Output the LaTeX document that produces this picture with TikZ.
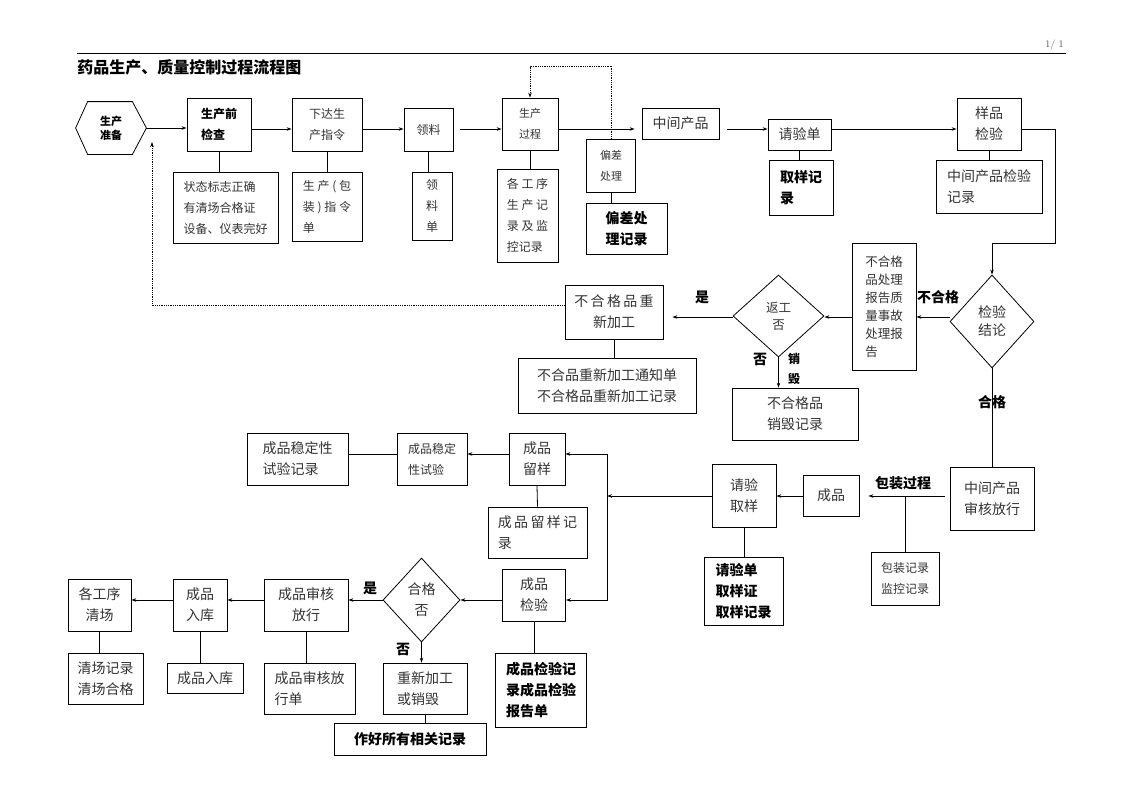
\documentclass[tikz,border=0pt]{standalone}
\usepackage{fontspec}
\newfontfamily\cjk{Noto Sans CJK SC}
\usetikzlibrary{arrows.meta,shapes.geometric,positioning}

\newcommand\fa{\cjk\fontsize{14}{21}\selectfont}   % normal text
\newcommand\fb{\cjk\fontsize{12}{21}\selectfont}   % small text
\newcommand\fc{\cjk\fontsize{11}{21}\selectfont}   % smaller text

\tikzset{
  box/.style={draw, inner sep=0pt, align=left, font=\fa, text=black!80},
  sz/.style 2 args={minimum width=#1, minimum height=#2},
  dia/.style={draw, diamond, inner sep=0pt, align=center, font=\fa, text=black!80},
  lab/.style={font=\fa\bfseries, inner sep=0pt},
  bold/.style={text=black},
  arr/.style={-{Stealth[length=5pt,width=3.5pt]}},
  dots/.style={densely dotted},
}

\begin{document}
\begin{tikzpicture}[x=1pt,y=-1pt,line width=0.8pt]
\useasboundingbox (0,0) rectangle (1122,793);

% header
\draw (77,53) -- (1066,53);
\node[anchor=south east, inner sep=0pt, text=black!70, font=\fontsize{10}{12}\selectfont] (pg) at (1064,50) {1/ 1};
\node[anchor=west, inner sep=0pt, font=\cjk\bfseries\fontsize{16}{20}\selectfont] (title) at (77,67) {药品生产、质量控制过程流程图};

% helper rows
\coordinate (r1) at (0,129);
\coordinate (r2) at (0,317);
\coordinate (r3) at (0,305);
\coordinate (r4) at (0,496);
\coordinate (r5) at (0,454);
\coordinate (r6) at (0,600);

% production line
\node[sz={70}{52}, inner sep=0pt, align=center, font=\cjk\bfseries\fontsize{11}{14}\selectfont] (zb) at (111,128) {生产\\准备};
\draw (zb.west) -- ([xshift=12]zb.north west) -- ([xshift=-14]zb.north east) -- (zb.east)
  -- ([xshift=-14]zb.south east) -- ([xshift=12]zb.south west) -- cycle;
\node[box, bold, sz={64}{53}, font=\fb\bfseries] (sqjc) at (219,124.5) {生产前\\检查};
\node[box, sz={70}{53}, font=\fb] (xdzl) at (327,124.5) {下达生\\产指令};
\node[box, sz={49}{43}, font=\fb] (ll) at (428.5,129.5) {领料};
\node[box, sz={56}{52}, font=\fc, align=center] (scgc) at (530,124) {生产\\过程};
\node[box, sz={49}{53}, font=\fc, align=center] (pccl) at (611,165.5) {偏差\\处理};
\node[box, sz={77}{31}] (zjcp) at (680.5,123.5) {中间产品};
\node[box, sz={63}{31}] (qyd) at (799.5,134.5) {请验单};
\node[box, sz={64}{52}, align=center] (ypjy) at (989,124) {样品\\检验};

% records
\node[box, sz={105}{71}, font=\fb] (ztbz) at (225.5,207.5) {状态标志正确\\有清场合格证\\设备、仪表完好};
\node[box, sz={70}{69}, font=\fb] (zlzd) at (327,206.5) {生 产 ( 包\\装 ) 指 令\\单};
\node[box, sz={40}{68}, font=\fb, align=center] (lld) at (432,206) {领\\料\\单};
\node[box, sz={61}{93}, font=\fb] (gjx) at (527.5,215.5) {各 工 序\\生 产 记\\录 及 监\\控记录};
\node[box, bold, sz={81}{51}, font=\fa\bfseries] (pcjl) at (626.5,228.5) {偏差处\\理记录};
\node[box, bold, sz={64}{55}, font=\fa\bfseries] (qyjl) at (801,187.5) {取样记\\录};
\node[box, sz={106}{53}] (zjjl) at (989,186.5) {中间产品检验\\记录};

\draw[arr] (zb.east) -- (sqjc.west |- zb.east);
\draw[arr] (sqjc.east |- r1) -- (xdzl.west |- r1);
\draw[arr] (xdzl.east |- r1) -- (ll.west |- r1);
\draw[arr, shorten <=7pt] (ll.east |- r1) -- (scgc.west |- r1);
\draw[arr, shorten >=7pt] (scgc.east |- r1) -- (zjcp.west |- r1);
\draw[arr, shorten <=8pt] (zjcp.east |- r1) -- (qyd.west |- r1);
\draw[arr] (qyd.east |- r1) -- (ypjy.west |- r1);
\draw[arr, dots] (pccl.north) -- ++(0,-72) -| (scgc.north);

\draw (sqjc.south) -- (sqjc.south |- ztbz.north);
\draw (xdzl.south) -- (xdzl.south |- zlzd.north);
\draw (ll.south) -- (ll.south |- lld.north);
\draw (scgc.south) -- (scgc.south |- gjx.north);
\draw (pccl.south) -- (pccl.south |- pcjl.north);
\draw (qyd.south) -- (qyd.south |- qyjl.north);
\draw (ypjy.south) -- (ypjy.south |- zjjl.north);

% inspection
\node[dia, sz={84}{93}, font=\cjk\fontsize{14}{18}\selectfont] (jyjl) at (992,321.5) {检验\\结论};
\node[box, sz={64}{127}, font=\cjk\fontsize{12.5}{18}\selectfont] (bhbg) at (884,306.5) {不合格\\品处理\\报告质\\量事故\\处理报\\告};
\node[dia, sz={91}{82}, font=\cjk\fontsize{12.5}{17}\selectfont] (fgf) at (778.5,316) {返工\\否};
\node[box, sz={98}{54}, align=center] (bcjg) at (614,312) {不\,合\,格\,品\,重\\新加工};
\node[box, sz={178}{55}] (cjtz) at (607,385.5) {不合品重新加工通知单\\不合格品重新加工记录};
\node[box, sz={126}{52}, align=center] (xhjl) at (795,414) {不合格品\\销毁记录};

\draw[arr] (ypjy.east |- r1) -- ++(34,0) -- ++(0,114) -| (jyjl.north);
\draw[arr] (jyjl.west |- r2) -- (bhbg.east |- r2);
\draw[arr] (bhbg.west |- r2) -- (fgf.east |- r2);
\draw[arr, shorten >=9pt] (fgf.west |- r2) -- (bcjg.east |- r2);
\draw[arr, dots] (bcjg.west |- r3) -| (152,142);
\draw (bcjg.south) -- (bcjg.south |- cjtz.north);
\draw[arr] (fgf.south) -- (fgf.south |- xhjl.north);
\node[lab] (bhg) at (938,297) {不合格};
\node[lab] (shi1) at (702,297) {是};
\node[lab] (fou1) at (760,359) {否};
\node[lab, align=center, font=\cjk\bfseries\fontsize{12}{20}\selectfont] (xh) at (794,369) {销\\毁};

% packaging and finished product
\node[box, sz={84}{63}, align=center] (zjsh) at (992,498.5) {中间产品\\审核放行};
\node[lab] (hg1) at (992,402) {合格};
\node[box, sz={56}{41}] (cp) at (831,495.5) {成品};
\node[box, sz={68}{53}, font=\fb, align=center] (bzjl) at (905,578.5) {包装记录\\监控记录};
\node[box, sz={64}{63}] (qyqy) at (744,495.5) {请验\\取样};
\node[box, bold, sz={79}{68}, font=\fa\bfseries] (qydz) at (743.5,591) {请验单\\取样证\\取样记录};
\coordinate (fx) at (607,496);

\draw (jyjl.south) -- (zjsh.north);
\draw[arr, shorten <=5pt, shorten >=9pt] (zjsh.west |- r4) -- (cp.east |- r4);
\node[lab] (bzgc) at (903,483) {包装过程};
\draw (bzjl.north |- r4) -- (bzjl.north);
\draw[arr] (cp.west |- r4) -- (qyqy.east |- r4);
\draw (qyqy.south) -- (qyqy.south |- qydz.north);
\draw[arr] (qyqy.west |- r4) -- (fx);

\node[box, sz={56}{52}] (cply) at (537,459) {成品\\留样};
\node[box, sz={70}{52}, font=\fb] (cwsy) at (432,459) {成品稳定\\性试验};
\node[box, sz={101}{52}] (cwjl) at (297.5,459) {成品稳定性\\试验记录};
\node[box, sz={99}{51}] (cljl) at (537.5,532.5) {成\,品\,留\,样\,记\\录};
\draw[arr] (fx) |- (cply.east |- r5);
\draw[arr] (cply.west |- r5) -- (cwsy.east |- r5);
\draw (cwsy.west |- r5) -- (cwjl.east |- r5);
\draw (cply.south) -- (cljl.north);

\node[box, sz={63}{52}, align=center] (cpjy) at (534,595) {成品\\检验};
\node[box, bold, sz={91}{74}, font=\fa\bfseries] (cpbg) at (541,690) {成品检验记\\录成品检验\\报告单};
\node[dia, sz={77}{84}] (hgf) at (421.5,600) {合格\\否};
\node[box, sz={84}{52}, align=center] (cpsh) at (306,605) {成品审核\\放行};
\node[box, sz={84}{51}] (cxjg) at (425,688.5) {重新加工\\或销毁};
\node[box, bold, sz={152}{32}, font=\fa\bfseries] (zhjl) at (410,739) {作好所有相关记录};
\node[box, sz={54}{52}] (cprk) at (200,605) {成品\\入库};
\node[box, sz={63}{52}, align=center] (qc) at (99.5,605) {各工序\\清场};
\node[box, sz={91}{51}] (shd) at (309.5,688.5) {成品审核放\\行单};
\node[box, sz={76}{30}] (rkd) at (205,678) {成品入库};
\node[box, sz={75}{51}] (qcjl) at (105.5,678.5) {清场记录\\清场合格};

\draw[arr] (fx) |- (cpjy.east |- r6);
\draw (cpjy.south) -- (cpjy.south |- cpbg.north);
\draw[arr] (cpjy.west |- r6) -- (hgf.east);
\draw[arr] (hgf.west) -- (cpsh.east |- hgf.west);
\node[lab] (shi2) at (370,588) {是};
\draw[arr] (hgf.south) -- (hgf.south |- cxjg.north);
\node[lab] (fou2) at (403,649) {否};
\draw (cxjg.south) -- (cxjg.south |- zhjl.north);
\draw[arr] (cpsh.west |- r6) -- (cprk.east |- r6);
\draw[arr] (cprk.west |- r6) -- (qc.east |- r6);
\draw (cpsh.south) -- (cpsh.south |- shd.north);
\draw (cprk.south) -- (cprk.south |- rkd.north);
\draw (qc.south) -- (qc.south |- qcjl.north);
\end{tikzpicture}
\end{document}
